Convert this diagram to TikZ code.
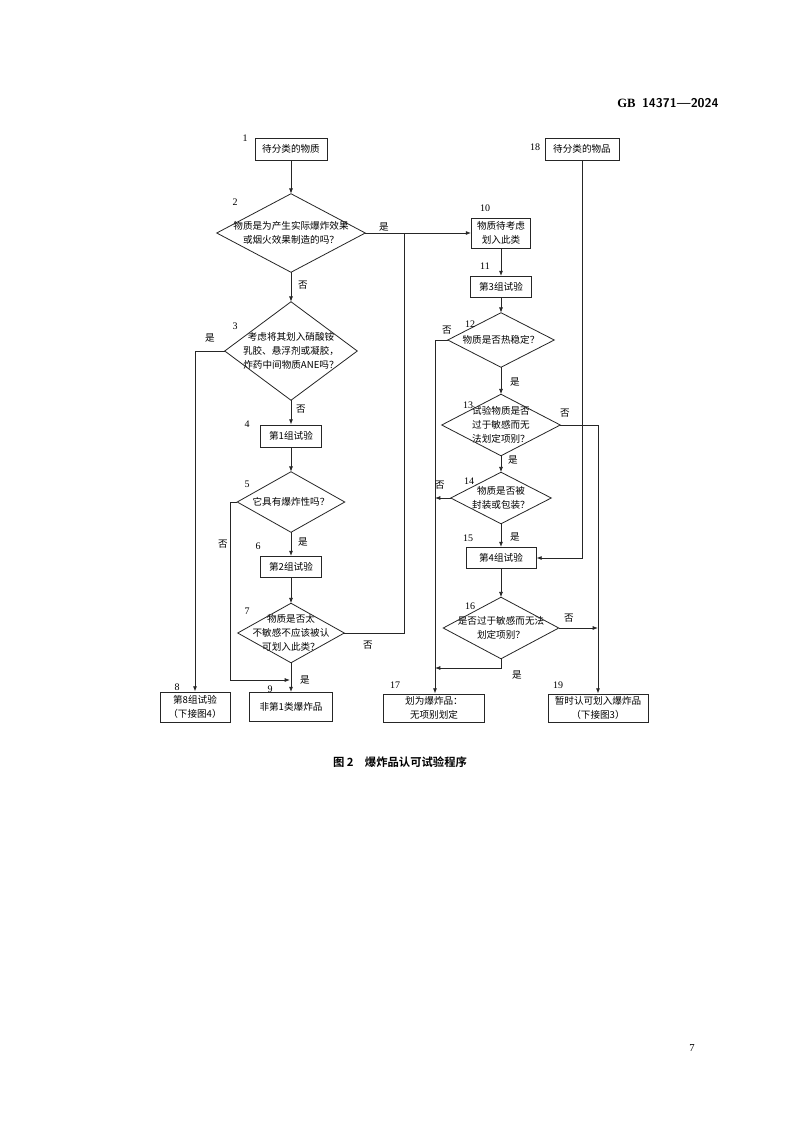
\documentclass[tikz,border=0pt]{standalone}
\usepackage{fontspec}
\setmainfont{Liberation Serif}
\newfontfamily\cjk{Noto Sans CJK SC}
\newfontfamily\cjkb{Noto Sans CJK SC Bold}
\usetikzlibrary{arrows.meta}
\newcommand\mydia[5]{\node[dtext,minimum width=#3*0.75pt,minimum height=#4*0.75pt] (#1) at (#2) {#5};
 \draw[line] (#1.north)--(#1.east)--(#1.south)--(#1.west)--cycle;}
\newcommand\mybox[5]{\node[bx,minimum width=#3*0.75pt,minimum height=#4*0.75pt] (#1) at (#2) {#5};}
\begin{document}
\begin{tikzpicture}[x=0.75pt,y=-0.75pt,
  line/.style={line width=0.6pt,draw=black!85},
  arr/.style={line,-{Latex[length=4pt,width=3pt]}},
  dtext/.style={inner sep=0pt,align=center,font=\cjk\fontsize{7.2}{10.5}\selectfont},
  bx/.style={line,draw,inner sep=0pt,align=center,font=\cjk\fontsize{7.2}{10.5}\selectfont},
  lab/.style={inner sep=0pt,font=\cjk\fontsize{7.2}{9}\selectfont},
  num/.style={inner sep=0pt,font=\fontsize{7.5}{9}\selectfont}]
\useasboundingbox[fill=white] (0,0) rectangle (800,1132);
\node[inner sep=0pt,font=\bfseries\fontsize{9.5}{11}\selectfont] (hdr) at (668,103) {GB\ \ {\sffamily 14371—2024}};
\node[inner sep=0pt,font=\fontsize{8}{10}\selectfont] (pg) at (692,1048) {7};
\node[inner sep=0pt,font=\cjkb\fontsize{8.5}{10}\selectfont] (cap) at (400,762) {图 2\quad 爆炸品认可试验程序};

\mybox{n1}{291,149}{72}{22}{待分类的物质}
\mydia{d2}{291,233}{148}{78}{物质是为产生实际爆炸效果\\或烟火效果制造的吗？}
\mydia{d3}{291,351}{132}{98}{考虑将其划入硝酸铵\\乳胶、悬浮剂或凝胶，\\炸药中间物质ANE吗？}
\mybox{n4}{291,436}{61}{22}{第1组试验}
\mydia{d5}{291,502}{107}{60}{它具有爆炸性吗？}
\mybox{n6}{291,567}{61}{21}{第2组试验}
\mydia{d7}{291,633}{106}{59}{物质是否太\\不敏感不应该被认\\可划入此类？}
\mybox{n8}{195,707}{70}{30}{第8组试验\\（下接图4）}
\mybox{n9}{291,707}{83}{29}{非第1类爆炸品}
\mybox{n10}{501,233}{59}{30}{物质待考虑\\划入此类}
\mybox{n11}{501,287}{61}{21}{第3组试验}
\mydia{d12}{501,340}{106}{54}{物质是否热稳定？}
\mydia{d13}{501,425}{118}{61}{试验物质是否\\过于敏感而无\\法划定项别？}
\mydia{d14}{501,498}{100}{51}{物质是否被\\封装或包装？}
\mybox{n15}{501,558}{70}{21}{第4组试验}
\mydia{d16}{501,628}{115}{61}{是否过于敏感而无法\\划定项别？}
\mybox{n17}{434,708}{101}{28}{划为爆炸品：\\无项别划定}
\mybox{n18}{582,149}{74}{22}{待分类的物品}
\mybox{n19}{598,708}{100}{28}{暂时认可划入爆炸品\\（下接图3）}

\node[num] at (245,138) {1};
\node[num] at (235,202) {2};
\node[num] at (235,326) {3};
\node[num] at (247,424) {4};
\node[num] at (247,484) {5};
\node[num] at (258,546) {6};
\node[num] at (247,611) {7};
\node[num] at (177,687) {8};
\node[num] at (270,689) {9};
\node[num] at (485,208) {10};
\node[num] at (485,266) {11};
\node[num] at (470,324) {12};
\node[num] at (468,405) {13};
\node[num] at (469,481) {14};
\node[num] at (468,538) {15};
\node[num] at (470,606) {16};
\node[num] at (395,685) {17};
\node[num] at (535,147) {18};
\node[num] at (558,685) {19};

\draw[arr] (n1) -- (d2.north);
\draw[arr] (d2.south) -- (d3.north);
\node[lab] at (303,285) {否};
\draw[arr] (d3.south) -- (n4);
\node[lab] at (301,409) {否};
\draw[arr] (d3.west) -| (n8.north);
\node[lab] at (210,338) {是};
\draw[arr] (n4) -- (d5.north);
\draw[arr] (d5.south) -- (n6);
\node[lab] at (303,542) {是};
\draw[arr] (d5.west) -- (230,502) |- (290,680);
\node[lab] at (223,544) {否};
\draw[arr] (n6) -- (d7.north);
\draw[arr] (d7.south) -- (n9);
\node[lab] at (305,680) {是};
\draw[arr] (d2.east) -- (n10.west);
\node[lab] at (384,227) {是};
\draw[line] (d7.east) -- (404,633) -- (404,233);
\node[lab] at (368,645) {否};
\draw[arr] (n10) -- (n11);
\draw[arr] (n11) -- (d12.north);
\draw[arr] (d12.south) -- (d13.north);
\node[lab] at (515,382) {是};
\draw[arr] (d12.west) -- (435,340) -- (n17.north -| 435,0);
\node[lab] at (447,330) {否};
\draw[arr] (d13.south) -- (d14.north);
\node[lab] at (513,460) {是};
\draw[arr] (d14.west) -- (435,498);
\node[lab] at (440,485) {否};
\draw[arr] (d14.south) -- (n15);
\node[lab] at (515,537) {是};
\draw[arr] (n15) -- (d16.north);
\draw[arr] (d16.south) -- (501,668) -- (435,668);
\node[lab] at (517,675) {是};
\draw[arr] (d13.east) -- (598,425) -- (n19.north);
\node[lab] at (565,413) {否};
\draw[arr] (d16.east) -- (598,628);
\node[lab] at (569,618) {否};
\draw[arr] (n18.south) -- (582,558) -- (n15.east);
\end{tikzpicture}
\end{document}
